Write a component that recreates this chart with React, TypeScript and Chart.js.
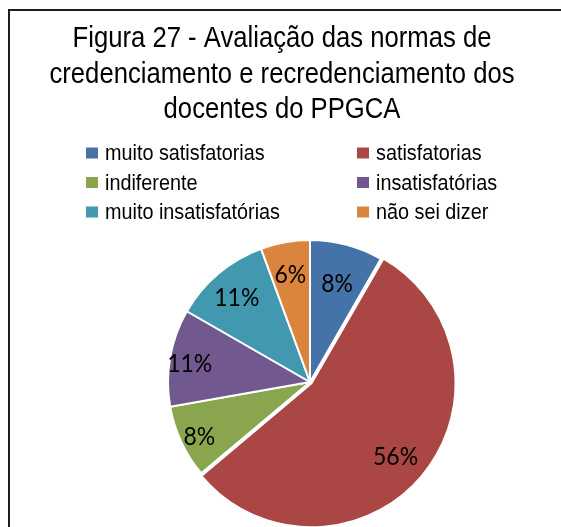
import React, { useEffect, useRef } from "react";
import { Chart, registerables } from "chart.js";

Chart.register(...registerables);

const titleLines = [
  "Figura 27 - Avaliação das normas de",
  "credenciamento e recredenciamento dos",
  "docentes do PPGCA",
];
const categories = [
  "muito satisfatorias",
  "satisfatorias",
  "indiferente",
  "insatisfatórias",
  "muito insatisfatórias",
  "não sei dizer",
];
const percentages = [8.3, 55.6, 8.3, 11.1, 11.1, 5.6];
const colors = ["#4572A7", "#AA4643", "#89A54E", "#71588F", "#4198AF", "#DB843D"];
const sliceOffsets = [0, 8, 0, 0, 0, 0];
const labelRadius = [0.74, 0.73, 0.86, 0.86, 0.8, 0.79];

const decorPlugin = {
  id: "decor",
  beforeDraw(chart: any) {
    const ctx = chart.ctx;
    ctx.save();
    ctx.fillStyle = "#ffffff";
    ctx.fillRect(0, 0, chart.width, chart.height);
    // frame
    ctx.fillStyle = "#1e1e1e";
    ctx.fillRect(8, 9, 2, chart.height - 9);
    ctx.fillRect(8, 9, chart.width - 8, 2);
    // title
    ctx.fillStyle = "#000";
    ctx.font = "29px 'Liberation Sans', Arial, sans-serif";
    ctx.textAlign = "center";
    ctx.textBaseline = "alphabetic";
    const baselines = [47, 83, 118];
    titleLines.forEach((t, i) => {
      ctx.save();
      ctx.translate(282, baselines[i]);
      ctx.scale(0.885, 1);
      ctx.fillText(t, 0, 0);
      ctx.restore();
    });
    // legend
    ctx.font = "22px 'Liberation Sans', Arial, sans-serif";
    ctx.textAlign = "left";
    const colX = [86, 357];
    const rowY = [153, 182.5, 212];
    categories.forEach((c, i) => {
      const x = colX[i % 2];
      const y = rowY[Math.floor(i / 2)];
      ctx.fillStyle = colors[i];
      ctx.fillRect(x, y - 5.5, 12, 11);
      ctx.fillStyle = "#000";
      ctx.save();
      ctx.translate(x + 19, y + 7);
      ctx.scale(0.9, 1);
      ctx.fillText(c, 0, 0);
      ctx.restore();
    });
    ctx.restore();
  },
  afterDatasetsDraw(chart: any) {
    const ctx = chart.ctx;
    const meta = chart.getDatasetMeta(0);
    ctx.save();
    ctx.fillStyle = "#000";
    ctx.font = "25px Lato, 'Open Sans', sans-serif";
    ctx.textAlign = "center";
    ctx.textBaseline = "middle";
    meta.data.forEach((arc: any, i: number) => {
      const p = arc.getProps(["x", "y", "startAngle", "endAngle", "outerRadius"], true);
      const mid = (p.startAngle + p.endAngle) / 2;
      const off = sliceOffsets[i];
      const r = p.outerRadius * labelRadius[i] + off;
      const x = p.x + Math.cos(mid) * r;
      const y = p.y + Math.sin(mid) * r + 3;
      ctx.save();
      ctx.translate(x, y);
      ctx.scale(0.92, 1);
      ctx.fillText(Math.round(percentages[i]) + "%", 0, 0);
      ctx.restore();
    });
    ctx.restore();
  },
};

export default function App() {
  const ref = useRef<HTMLCanvasElement>(null);
  useEffect(() => {
    if (!ref.current) return;
    const chart = new Chart(ref.current, {
      type: "pie",
      data: {
        labels: categories,
        datasets: [
          {
            data: percentages,
            backgroundColor: colors,
            borderColor: "#ffffff",
            borderWidth: 2,
            offset: sliceOffsets,
          },
        ],
      },
      options: {
        responsive: false,
        maintainAspectRatio: false,
        animation: false,
        radius: 142,
        layout: { padding: { top: 240, left: 168, right: 109, bottom: 3 } },
        plugins: {
          legend: { display: false },
          title: { display: false },
          tooltip: { enabled: false },
        },
      },
      plugins: [decorPlugin],
    } as any);
    return () => chart.destroy();
  }, []);
  return (
    <div style={{ position: "fixed", left: 0, top: 0, width: 561, height: 527, overflow: "hidden", background: "#fff" }}>
      <canvas ref={ref} width={561} height={527} style={{ width: 561, height: 527, display: "block" }} />
    </div>
  );
}
